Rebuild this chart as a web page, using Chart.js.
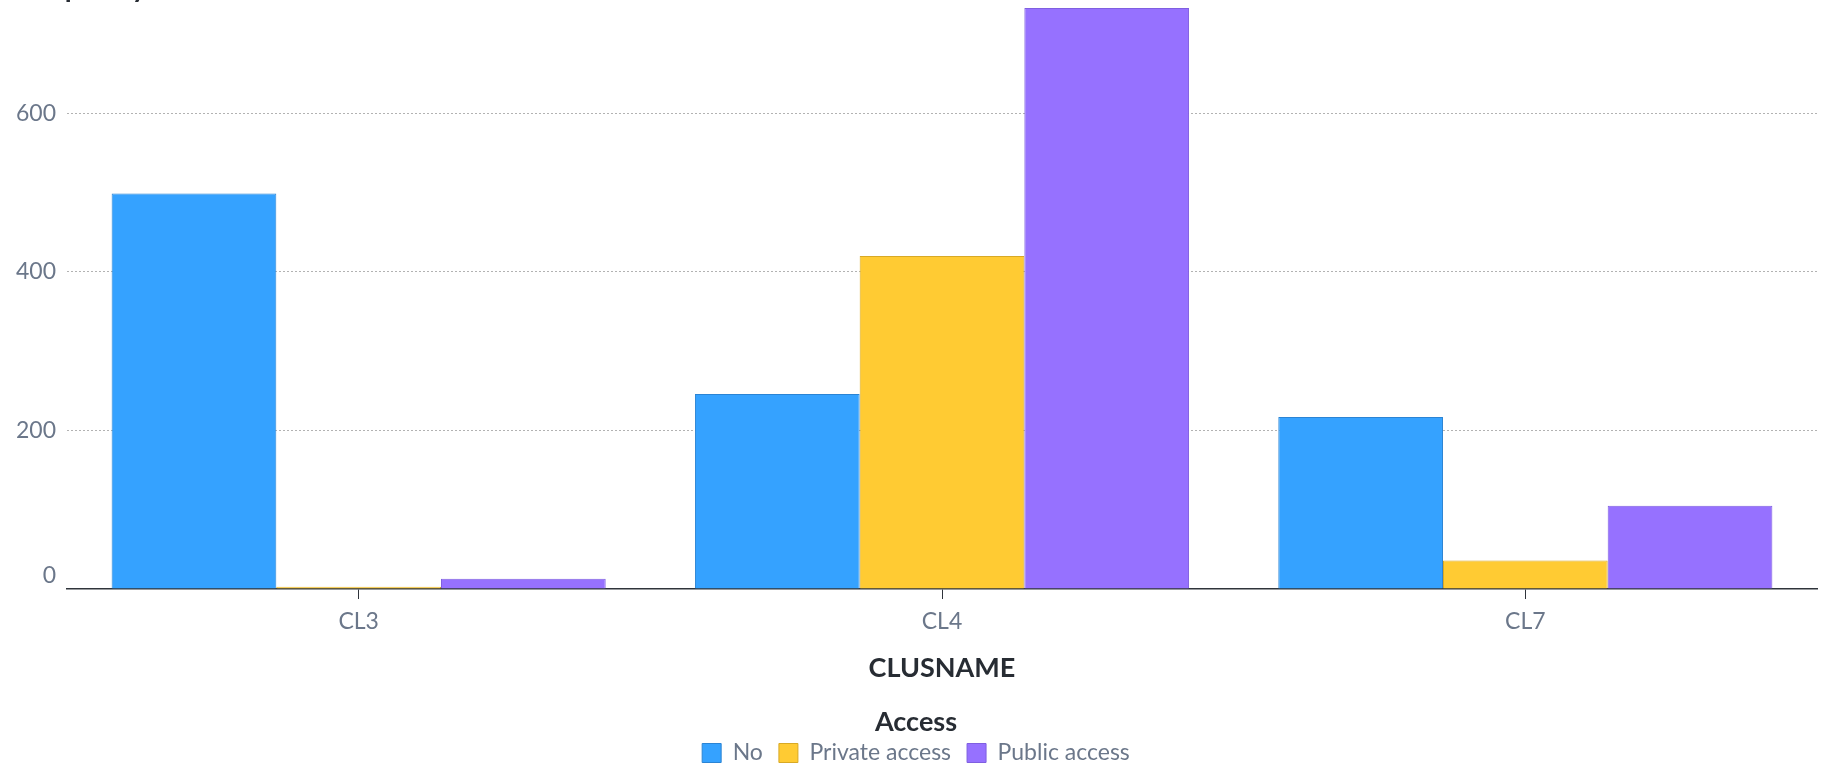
<!DOCTYPE html>
<html lang="en">
<head>
  <meta charset="UTF-8" />
  <title>Access by cluster</title>
  <script src="https://cdn.jsdelivr.net/npm/chart.js"></script>
  <style>
    body {
      margin: 0;
      background: #fff;
    }

    .chart-box {
      position: relative;
      width: 1832px;
      height: 769px;
    }
  </style>
</head>

<body>
  <div class="chart-box">
    <canvas id="accessChart"></canvas>
  </div>

  <script>
    const clusters = ['CL3', 'CL4', 'CL7'];
    const noAccess = [499, 246, 217];
    const privateAccess = [3, 420, 36];
    const publicAccess = [13, 733, 105];
    const yTicks = [0, 200, 400, 600];
    const yMax = 743;
    const yTitle = 'Frequency';

    const TEXT_DARK = '#272c33';
    const TEXT_SOFT = '#6b778a';
    const AXIS = '#2f343b';

    // y axis title sits above the plot, mostly cut off by the top edge
    const cornerLabel = {
      id: 'cornerLabel',
      afterDraw(chart) {
        const ctx = chart.ctx;
        ctx.save();
        ctx.font = 'bold 28px Lato';
        ctx.fillStyle = TEXT_DARK;
        ctx.textBaseline = 'alphabetic';
        ctx.fillText(yTitle, 16, -3);
        ctx.restore();
      }
    };

    const ctx = document.getElementById('accessChart').getContext('2d');
    const accessChart = new Chart(ctx, {
      type: 'bar',
      data: {
        labels: clusters,
        datasets: [
          {
            label: 'No',
            data: noAccess,
            backgroundColor: '#35a2ff',
            borderColor: '#2b84d4',
          },
          {
            label: 'Private access',
            data: privateAccess,
            backgroundColor: '#ffcb33',
            borderColor: '#d8a925',
          },
          {
            label: 'Public access',
            data: publicAccess,
            backgroundColor: '#9671ff',
            borderColor: '#7f5fe0',
          }
        ]
      },
      options: {
        responsive: true,
        maintainAspectRatio: false,
        animation: false,
        datasets: {
          bar: {
            borderWidth: 1,
            categoryPercentage: 0.847,
            barPercentage: 1
          }
        },
        layout: {
          padding: { top: 0, left: 15, right: 15, bottom: -5.5 }
        },
        plugins: {
          tooltip: { enabled: false },
          legend: {
            position: 'bottom',
            title: {
              display: true,
              text: 'Access',
              color: TEXT_DARK,
              padding: { top: 0, bottom: 0 },
              font: { family: 'Lato', size: 27, weight: 'bold', lineHeight: 0.61 }
            },
            labels: {
              boxWidth: 19,
              boxHeight: 19,
              padding: 16,
              color: TEXT_SOFT,
              font: { family: 'Lato', size: 23 }
            }
          }
        },
        scales: {
          x: {
            z: 1,
            grid: {
              drawOnChartArea: false,
              drawTicks: true,
              tickLength: 10,
              tickColor: AXIS,
              offset: false
            },
            border: { display: true, color: AXIS, width: 1.5 },
            ticks: {
              padding: 9,
              color: TEXT_SOFT,
              font: { family: 'Lato', size: 23 }
            },
            title: {
              display: true,
              text: 'CLUSNAME',
              color: TEXT_DARK,
              padding: { top: 0, bottom: 25 },
              font: { family: 'Lato', size: 27, weight: 'bold', lineHeight: 1.155 }
            },
            afterFit(scale) {
              scale.height = 120;
            }
          },
          y: {
            z: 1,
            min: 0,
            max: yMax,
            afterBuildTicks(scale) {
              scale.ticks = yTicks.map(v => ({ value: v }));
            },
            afterFit(scale) {
              scale.width = 52;
              scale.paddingTop = 0;
              scale.paddingBottom = 0;
            },
            grid: {
              drawTicks: false,
              color: c => (c.tick && c.tick.value === 0) ? 'transparent' : 'rgba(0, 0, 0, 0.3)',
              lineWidth: 1
            },
            border: { display: false, dash: [2, 2] },
            ticks: {
              padding: 11,
              color: TEXT_SOFT,
              font: { family: 'Lato', size: 23 },
              // the zero label is lifted clear of the axis line
              callback: v => v === 0 ? ['0', ''] : String(v)
            }
          }
        }
      },
      plugins: [cornerLabel]
    });
  </script>
</body>
</html>
